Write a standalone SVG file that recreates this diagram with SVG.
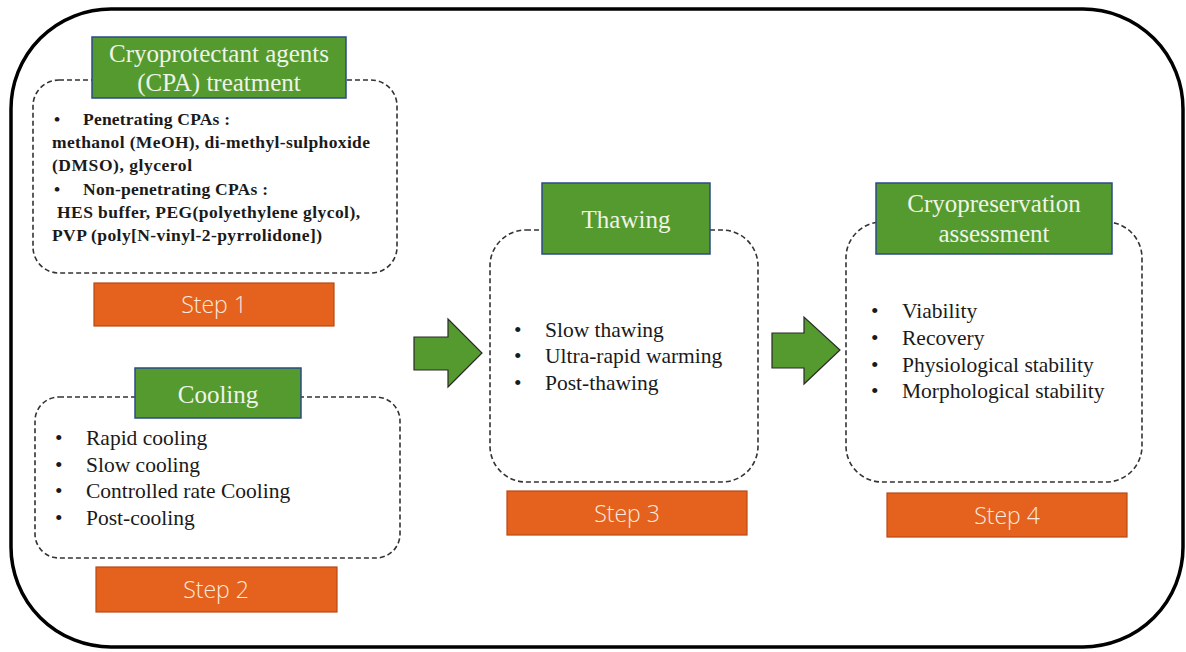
<svg xmlns="http://www.w3.org/2000/svg" width="1186" height="652" viewBox="0 0 1186 652">
<style>
.frame{fill:#fff;stroke:#000;stroke-width:3.5}
.dash{fill:#fff;stroke:#333;stroke-width:1.6;stroke-dasharray:5 3}
.hdr{fill:#559A2F;stroke:#2B4A8A;stroke-width:1.5}
.step{fill:#E4621D;stroke:#B84A14;stroke-width:1.2}
.arrow{fill:#559A2F;stroke:#2a2a2a;stroke-width:1.2}
.ht{font-family:"Liberation Serif",serif;font-size:25px;fill:#EEF4E8;text-anchor:middle}
.st{font-family:"Open Sans","Liberation Sans",sans-serif;font-weight:300;font-size:23px;fill:#FBEADF;text-anchor:middle}
.b1{font-family:"Liberation Serif",serif;font-weight:bold;font-size:17.5px;fill:#1a1a1a}
.bl{font-family:"Liberation Serif",serif;font-size:21.5px;fill:#1a1a1a}
</style>
<rect class="frame" x="11" y="9" width="1172" height="638" rx="100" ry="100"/>
<g id="connectors">
<path class="arrow" d="M414,337 H448 V319 L482,353 L448,387 V370 H414 Z"/>
<path class="arrow" d="M772,333 H804 V317 L840,350 L804,384 V368 H772 Z"/>
</g>
<g id="step1-cpa">
<rect class="dash" x="33" y="80" width="364" height="193" rx="26"/>
<rect class="hdr" x="92" y="37" width="254" height="61"/>
<text class="ht" x="219" y="62">Cryoprotectant agents</text>
<text class="ht" x="219" y="91">(CPA) treatment</text>
<text class="b1" x="54" y="125">•</text>
<text class="b1" x="83" y="125" textLength="147" lengthAdjust="spacing">Penetrating CPAs :</text>
<text class="b1" x="52" y="148" textLength="318" lengthAdjust="spacing">methanol (MeOH), di-methyl-sulphoxide</text>
<text class="b1" x="52" y="171" textLength="140" lengthAdjust="spacing">(DMSO), glycerol</text>
<text class="b1" x="54" y="195">•</text>
<text class="b1" x="83" y="195" textLength="185" lengthAdjust="spacing">Non-penetrating CPAs :</text>
<text class="b1" x="57" y="218" textLength="303" lengthAdjust="spacing">HES buffer, PEG(polyethylene glycol),</text>
<text class="b1" x="52" y="241" textLength="270" lengthAdjust="spacing">PVP (poly[N-vinyl-2-pyrrolidone])</text>
<rect class="step" x="94" y="283" width="240" height="43"/>
<text class="st" x="214" y="313">Step 1</text>
</g>
<g id="step2-cooling">
<rect class="dash" x="35" y="397" width="365" height="161" rx="24"/>
<rect class="hdr" x="135" y="368" width="166" height="50"/>
<text class="ht" x="218" y="403">Cooling</text>
<text class="bl" x="55" y="445">•</text><text class="bl" x="86" y="445">Rapid cooling</text>
<text class="bl" x="55" y="472">•</text><text class="bl" x="86" y="472">Slow cooling</text>
<text class="bl" x="55" y="498">•</text><text class="bl" x="86" y="498">Controlled rate Cooling</text>
<text class="bl" x="55" y="525">•</text><text class="bl" x="86" y="525">Post-cooling</text>
<rect class="step" x="96" y="567" width="241" height="45"/>
<text class="st" x="216" y="598">Step 2</text>
</g>
<g id="step3-thawing">
<rect class="dash" x="490" y="230" width="268" height="252" rx="36"/>
<rect class="hdr" x="542" y="183" width="168" height="71"/>
<text class="ht" x="626" y="228">Thawing</text>
<text class="bl" x="514" y="337">•</text><text class="bl" x="545" y="337">Slow thawing</text>
<text class="bl" x="514" y="363">•</text><text class="bl" x="545" y="363">Ultra-rapid warming</text>
<text class="bl" x="514" y="390">•</text><text class="bl" x="545" y="390">Post-thawing</text>
<rect class="step" x="507" y="491" width="240" height="44"/>
<text class="st" x="627" y="522">Step 3</text>
</g>
<g id="step4-assessment">
<rect class="dash" x="846" y="222" width="296" height="260" rx="36"/>
<rect class="hdr" x="876" y="183" width="236" height="71"/>
<text class="ht" x="994" y="212">Cryopreservation</text>
<text class="ht" x="994" y="242">assessment</text>
<text class="bl" x="871" y="318">•</text><text class="bl" x="902" y="318">Viability</text>
<text class="bl" x="871" y="345">•</text><text class="bl" x="902" y="345">Recovery</text>
<text class="bl" x="871" y="372">•</text><text class="bl" x="902" y="372">Physiological stability</text>
<text class="bl" x="871" y="398">•</text><text class="bl" x="902" y="398">Morphological stability</text>
<rect class="step" x="887" y="493" width="240" height="44"/>
<text class="st" x="1007" y="524">Step 4</text>
</g>
</svg>
